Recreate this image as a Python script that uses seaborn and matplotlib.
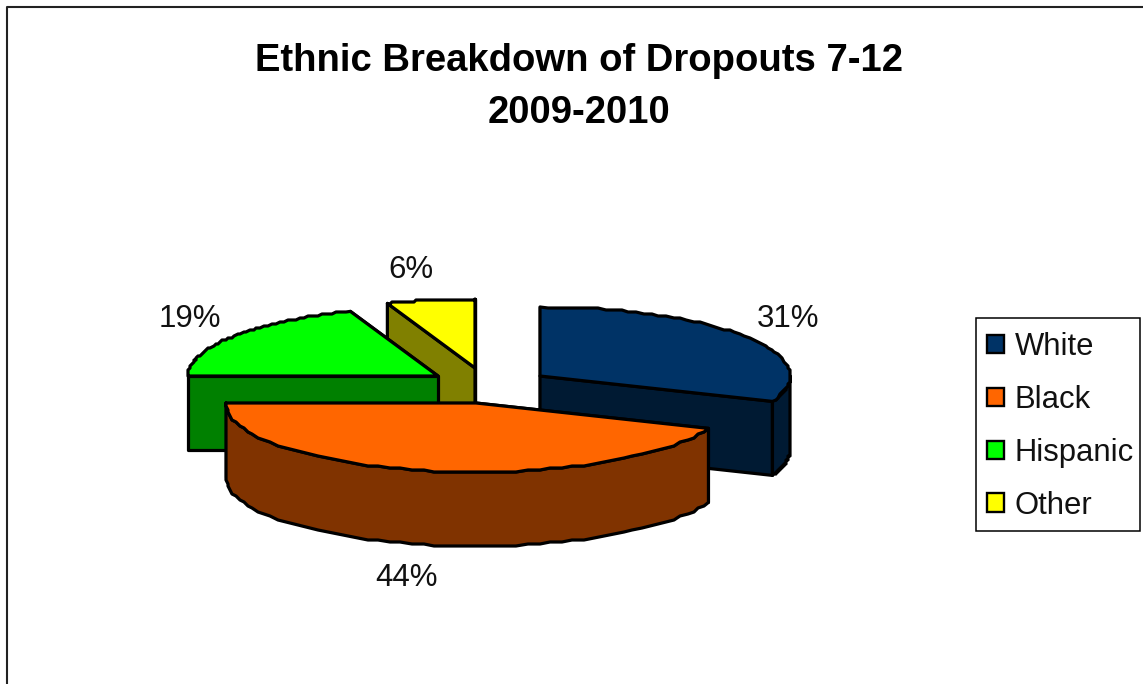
import numpy as np
import matplotlib.pyplot as plt
from matplotlib.patches import Patch, Rectangle
import seaborn as sns

sns.set_theme(style="white")
plt.rcParams['font.family'] = ['Liberation Sans', 'DejaVu Sans']

# Values (the labels round them to whole percents)
groups = ["White", "Black", "Hispanic", "Other"]
percents = [31, 44, 19.3, 5.7]
top_colors = ["#003366", "#FF6600", "#00FF00", "#FFFF00"]
side_colors = ["#001A33", "#803300", "#008000", "#808000"]

# where each exploded slice has its tip, in pixels
tips_x = [540, 476, 438, 475]
tips_y = [376, 403, 376, 368]
label_x = [788, 406, 190, 411]
label_y = [319, 578, 319, 270]

RX, RY = 250, 69   # pie ellipse
DEPTH = 74
EDGE = 2.3
STEP = 2   # the original curve is stepped, snap it to a coarse grid


def rim_points(cx, cy, a0, a1):
    angles = np.radians(np.linspace(a0, a1, 60))
    x = cx + RX * np.sin(angles)
    y = cy - RY * np.cos(angles)
    x[1:-1] = np.round(x[1:-1] / STEP) * STEP
    y[1:-1] = np.round(y[1:-1] / STEP) * STEP
    return x, y


def draw_slice(ax, cx, cy, a0, a1, top, side, z):
    style = dict(edgecolor="black", linewidth=EDGE, joinstyle="round", zorder=z)
    # the two cut faces, the one further back first
    ends = sorted([a0, a1], key=lambda a: -np.cos(np.radians(a)))
    for a in ends:
        ex, ey = rim_points(cx, cy, a, a)
        ax.fill([cx, ex[0], ex[0], cx],
                [cy, ey[0], ey[0] + DEPTH, cy + DEPTH],
                facecolor=side, **style)
    # outer wall, only the front half of the ellipse shows
    f0, f1 = max(a0, 90), min(a1, 270)
    if f0 < f1:
        rx, ry = rim_points(cx, cy, f0, f1)
        ax.fill(np.r_[rx, rx[::-1]], np.r_[ry, ry[::-1] + DEPTH],
                facecolor=side, **style)
    # top face
    tx, ty = rim_points(cx, cy, a0, a1)
    ax.fill(np.r_[cx, tx], np.r_[cy, ty], facecolor=top, **style)


fig = plt.figure(figsize=(11.43, 6.84), dpi=100)
ax = fig.add_axes([0, 0, 1, 1])
ax.set_xlim(0, 1143)
ax.set_ylim(684, 0)
ax.axis("off")

# outer chart frame
ax.plot([7, 7, 1143], [684, 7, 7], color="#222222", lw=1.5, zorder=1)

stops = np.cumsum([0] + percents) * 3.6
# back slices first so the black one sits on top
draw_order = [3, 2, 0, 1]
for z, i in enumerate(draw_order):
    draw_slice(ax, tips_x[i], tips_y[i], stops[i], stops[i + 1],
               top_colors[i], side_colors[i], 2 + z)

for i, p in enumerate(percents):
    ax.text(label_x[i], label_y[i], f"{p:.0f}%", fontsize=22.5, color="#111111",
            ha="center", va="center", zorder=10)

ax.text(579, 87, "Ethnic Breakdown of Dropouts 7-12\n2009-2010", fontsize=27.5,
        fontweight="bold", color="black", ha="center", va="center",
        linespacing=1.6, zorder=10)

# legend box is drawn on its own so it can match the original size
ax.add_patch(Rectangle((975.5, 317.5), 164.5, 213.5, facecolor="white",
                       edgecolor="black", linewidth=1.1, zorder=9))
handles = [Patch(facecolor=c, edgecolor="black", linewidth=1.7) for c in top_colors]
leg = ax.legend(handles, groups, loc="upper left", bbox_to_anchor=(987 / 1143, 1 - 332 / 684),
                bbox_transform=fig.transFigure, fontsize=22.3, frameon=False,
                borderaxespad=0, borderpad=0, handlelength=0.55, handleheight=0.55,
                handletextpad=0.35, labelspacing=0.74, labelcolor="#111111")
leg.set_zorder(10)

fig.savefig("out.png", dpi=100, facecolor="white")
